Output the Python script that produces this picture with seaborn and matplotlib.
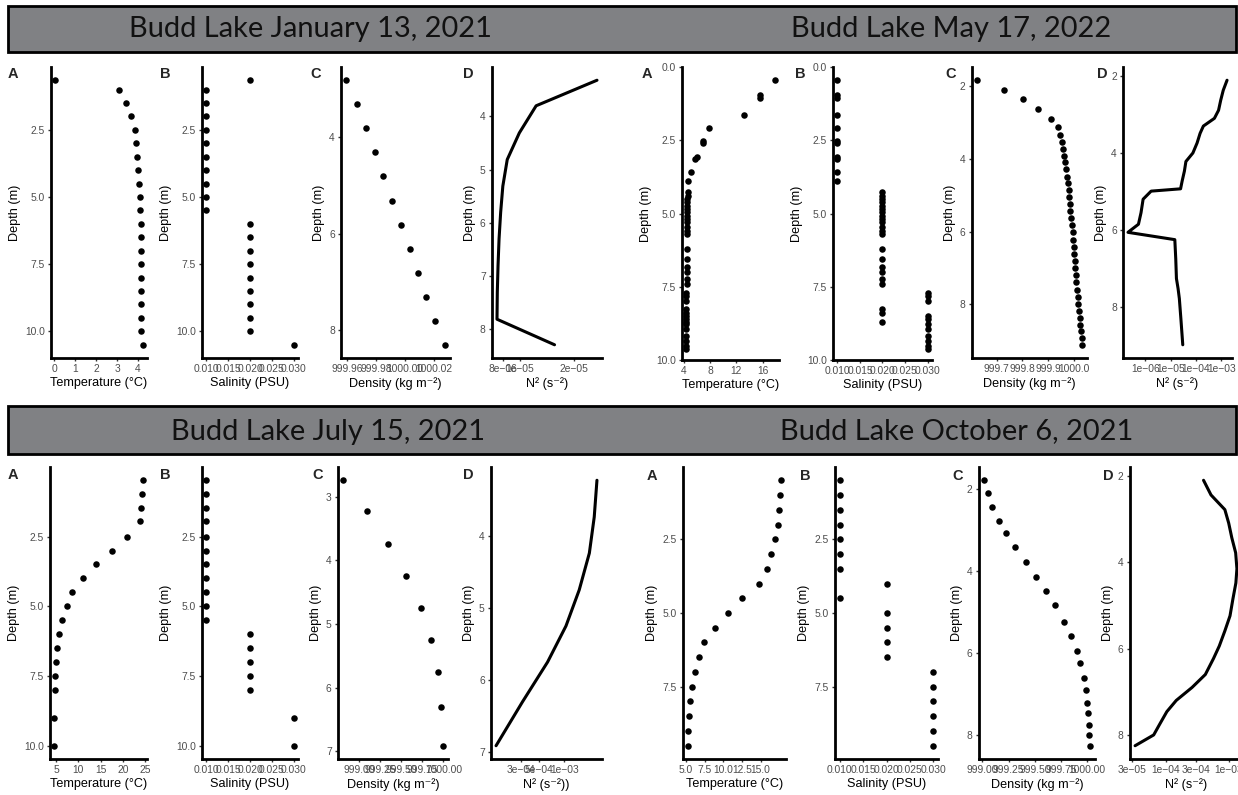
import matplotlib
matplotlib.use("Agg")
import numpy as np
import pandas as pd
import matplotlib.pyplot as plt
import matplotlib.ticker as mticker
from matplotlib.patches import Rectangle
import seaborn as sns

# ---------------- data ----------------
titles = ["Budd Lake January 13, 2021", "Budd Lake May 17, 2022",
          "Budd Lake July 15, 2021", "Budd Lake October 6, 2021"]

# January 13, 2021
jan_depth = [0.65, 1.0, 1.5, 2.0, 2.5, 3.0, 3.5, 4.0, 4.5, 5.0, 5.5, 6.0, 6.5,
             7.0, 7.5, 8.0, 8.5, 9.0, 9.5, 10.0, 10.5]
jan_temp = [0.05, 3.08, 3.43, 3.67, 3.84, 3.92, 3.97, 3.98, 4.05, 4.11, 4.11,
            4.12, 4.16, 4.16, 4.16, 4.16, 4.16, 4.14, 4.16, 4.16, 4.22]
jan_sal = [0.02, 0.01, 0.01, 0.01, 0.01, 0.01, 0.01, 0.01, 0.01, 0.01, 0.01,
           0.02, 0.02, 0.02, 0.02, 0.02, 0.02, 0.02, 0.02, 0.02, 0.03]
jan_dens_depth = [2.83, 3.32, 3.82, 4.32, 4.82, 5.32, 5.82, 6.32, 6.81, 7.31, 7.80, 8.30]
jan_density = [999.959, 999.967, 999.973, 999.979, 999.985, 999.991, 999.9975,
               1000.0034, 1000.009, 1000.015, 1000.021, 1000.028]
jan_n2_depth = [3.32, 3.80, 4.31, 4.81, 5.31, 5.80, 6.30, 6.80, 7.30, 7.81, 8.29]
jan_n2 = [2.70e-5, 1.23e-5, 9.9e-6, 8.47e-6, 8.0e-6, 7.78e-6, 7.62e-6, 7.52e-6,
          7.45e-6, 7.42e-6, 1.56e-5]

# May 17, 2022
may_depth = [0.46, 0.97, 1.05, 1.63, 2.09, 2.53, 2.60, 3.08, 3.15, 3.59, 3.88,
             4.28, 4.39, 4.50, 4.62, 4.73, 4.85, 4.96, 5.07, 5.19, 5.30, 5.47,
             5.59, 5.70, 6.21, 6.56, 6.84, 6.98, 7.24, 7.39, 8.27, 8.38, 8.72,
             7.72, 7.83, 7.98, 8.49, 8.61, 8.78, 8.95, 9.18, 9.35, 9.52, 9.64]
may_temp = [17.85, 15.54, 15.6, 13.23, 7.85, 6.92, 6.82, 5.9, 5.6, 5.03, 4.67,
            4.55, 4.55, 4.5, 4.5, 4.5, 4.5, 4.45, 4.45, 4.45, 4.45, 4.4,
            4.4, 4.4, 4.4, 4.4, 4.4, 4.4, 4.4, 4.4, 4.35, 4.35, 4.35,
            4.35, 4.35, 4.35, 4.35, 4.35, 4.35, 4.35, 4.35, 4.35, 4.35, 4.35]
may_sal = [0.01, 0.01, 0.01, 0.01, 0.01, 0.01, 0.01, 0.01, 0.01, 0.01, 0.01,
           0.02, 0.02, 0.02, 0.02, 0.02, 0.02, 0.02, 0.02, 0.02, 0.02, 0.02,
           0.02, 0.02, 0.02, 0.02, 0.02, 0.02, 0.02, 0.02, 0.02, 0.02, 0.02,
           0.03, 0.03, 0.03, 0.03, 0.03, 0.03, 0.03, 0.03, 0.03, 0.03, 0.03]
may_dens_depth = [1.83, 2.10, 2.36, 2.63, 2.89, 3.13, 3.33, 3.52, 3.71, 3.91, 4.09,
                  4.28, 4.48, 4.66, 4.86, 5.05, 5.24, 5.44, 5.63, 5.82, 6.02, 6.22,
                  6.41, 6.61, 6.80, 7.00, 7.20, 7.39, 7.59, 7.79, 7.98, 8.18, 8.38,
                  8.56, 8.74, 8.92, 9.11]
may_density = [999.624, 999.730, 999.804, 999.862, 999.911, 999.938, 999.947,
               999.953, 999.957, 999.964, 999.968, 999.972, 999.976, 999.978,
               999.981, 999.984, 999.986, 999.988, 999.991, 999.993, 999.996,
               999.997, 1000.000, 1000.001, 1000.004, 1000.005, 1000.008,
               1000.011, 1000.014, 1000.016, 1000.019, 1000.022, 1000.024,
               1000.027, 1000.030, 1000.031, 1000.032]
may_n2_depth = [2.10, 2.36, 2.62, 2.88, 3.09, 3.29, 3.48, 3.73, 3.99, 4.21, 4.46,
                4.72, 4.92, 4.98, 5.19, 5.54, 5.84, 6.05, 6.24, 6.74, 7.25, 7.51,
                7.77, 8.28, 8.97]
may_n2 = [1.68e-3, 1.19e-3, 9.44e-4, 7.76e-4, 5.31e-4, 1.95e-4, 1.445e-4, 1.10e-4,
          7.5e-5, 3.98e-5, 3.47e-5, 2.82e-5, 2.45e-5, 1.68e-6, 8.1e-7, 6.7e-7,
          5.3e-7, 2.04e-7, 1.45e-5, 1.58e-5, 1.68e-5, 1.95e-5, 2.19e-5, 2.51e-5,
          2.99e-5]

# July 15, 2021
jul_depth = [0.48, 0.98, 1.49, 1.95, 2.5, 3.0, 3.5, 4.0, 4.5, 5.0, 5.5, 6.0, 6.5,
             7.0, 7.5, 8.0, 9.0, 10.0]
jul_temp = [24.4, 24.2, 24.1, 23.9, 20.9, 17.5, 14.0, 11.1, 8.7, 7.4, 6.4, 5.7,
            5.3, 5.0, 4.85, 4.8, 4.65, 4.65]
jul_sal = [0.01, 0.01, 0.01, 0.01, 0.01, 0.01, 0.01, 0.01, 0.01, 0.01, 0.01,
           0.02, 0.02, 0.02, 0.02, 0.02, 0.03, 0.03]
jul_dens_depth = [2.74, 3.23, 3.74, 4.24, 4.75, 5.25, 5.75, 6.30, 6.91]
jul_density = [998.813, 999.097, 999.342, 999.564, 999.739, 999.856, 999.933,
               999.972, 999.996]
jul_n2_depth = [3.23, 3.74, 4.24, 4.75, 5.25, 5.75, 6.30, 6.91]
jul_n2 = [2.47e-3, 2.29e-3, 2.0e-3, 1.51e-3, 1.045e-3, 6.27e-4, 3.13e-4, 1.5e-4]

# October 6, 2021
oct_depth = [0.5, 1.0, 1.5, 2.0, 2.5, 3.0, 3.5, 4.0, 4.5, 5.0, 5.5, 6.0, 6.5,
             7.0, 7.5, 8.0, 8.5, 9.0, 9.5]
oct_temp = [17.79, 17.61, 17.48, 17.34, 16.98, 16.44, 15.81, 14.82, 12.52, 10.63,
            8.96, 7.48, 6.71, 6.26, 5.77, 5.54, 5.36, 5.23, 5.23]
oct_sal = [0.01, 0.01, 0.01, 0.01, 0.01, 0.01, 0.01, 0.02, 0.01, 0.02, 0.02,
           0.02, 0.02, 0.03, 0.03, 0.03, 0.03, 0.03, 0.03]
oct_dens_depth = [1.80, 2.10, 2.44, 2.78, 3.09, 3.43, 3.78, 4.15, 4.48, 4.84, 5.24,
                  5.59, 5.94, 6.23, 6.60, 6.90, 7.20, 7.46, 7.75, 8.00, 8.25]
oct_density = [999.017, 999.050, 999.089, 999.159, 999.225, 999.311, 999.411,
               999.513, 999.606, 999.695, 999.778, 999.844, 999.897, 999.930,
               999.964, 999.983, 1000.000, 1000.007, 1000.013, 1000.020, 1000.023]
oct_n2_depth = [2.10, 2.44, 2.78, 3.09, 3.43, 3.78, 4.15, 4.48, 4.84, 5.24, 5.59,
                5.94, 6.23, 6.60, 6.90, 7.20, 7.46, 7.75, 8.00, 8.25]
oct_n2 = [4.0e-4, 5.25e-4, 8.7e-4, 1.0e-3, 1.12e-3, 1.29e-3, 1.35e-3, 1.30e-3,
          1.17e-3, 1.05e-3, 8.7e-4, 7.1e-4, 5.75e-4, 4.27e-4, 2.63e-4, 1.48e-4,
          1.05e-4, 8.1e-5, 6.5e-5, 3.3e-5]

# tick values / labels
sal_ticks = [0.010, 0.015, 0.020, 0.025, 0.030]
sal_labels = ["0.010", "0.015", "0.020", "0.025", "0.030"]

# ---------------- style ----------------
W, H = 1238, 795
sns.set_style("ticks")
plt.rcParams['font.family'] = ['Liberation Sans', 'DejaVu Sans']
plt.rcParams['axes.unicode_minus'] = True

fig = plt.figure(figsize=(W / 100, H / 100), dpi=100)
fig.patch.set_facecolor("white")

TICK_FS = 7.4
LAB_FS = 9.1
TICK_COL = "#4d4d4d"


def make_ax(l, r, t, b):
    return fig.add_axes([l / W, 1 - b / H, (r - l) / W, (b - t) / H])


def expand(vals, log=False, frac=0.05):
    v = np.log10(vals) if log else np.asarray(vals, float)
    lo, hi = v.min(), v.max()
    pad = (hi - lo) * frac
    lo, hi = lo - pad, hi + pad
    if log:
        return 10 ** lo, 10 ** hi
    return lo, hi


def style(ax, xlabel, xticks, xlabels, yticks, ylabels, xlim, ylim, log=False):
    if log:
        ax.set_xscale("log")
    ax.set_xlim(*xlim)
    ax.set_ylim(ylim[1], ylim[0])  # depth increases downward
    ax.xaxis.set_major_locator(mticker.FixedLocator(xticks))
    ax.xaxis.set_minor_locator(mticker.NullLocator())
    ax.set_xticklabels(xlabels)
    ax.set_yticks(yticks)
    ax.set_yticklabels(ylabels)
    ax.set_xlabel(xlabel, fontsize=LAB_FS, labelpad=2, color="black")
    ax.set_ylabel("Depth (m)", fontsize=LAB_FS, labelpad=3, color="black")
    ax.tick_params(axis="both", labelsize=TICK_FS, labelcolor=TICK_COL,
                   length=2.5, width=1.0, color="#333333", pad=2)
    for s in ["top", "right"]:
        ax.spines[s].set_visible(False)
    for s in ["left", "bottom"]:
        ax.spines[s].set_linewidth(2.0)
        ax.spines[s].set_color("black")
    ax.set_facecolor("white")


def scatter(ax, x, y):
    sns.scatterplot(x=x, y=y, ax=ax, color="black", s=22, linewidth=0,
                    legend=False)


def line(ax, x, y):
    sns.lineplot(x=x, y=y, ax=ax, sort=False, estimator=None, color="black",
                 linewidth=2.2, legend=False)


# ---------------- banners ----------------
for (top, bot) in [(6, 52), (406, 454)]:
    fig.add_artist(Rectangle((8 / W, 1 - bot / H), (1236 - 8) / W, (bot - top) / H,
                             transform=fig.transFigure, facecolor="#808184",
                             edgecolor="black", linewidth=2.0, zorder=0))
title_pos = [(310.5, 37), (951.5, 37), (328, 440), (956.5, 439)]
for t, (cx, by) in zip(titles, title_pos):
    fig.text(cx / W, 1 - by / H, t, ha="center", va="baseline", fontsize=20.9,
             family=["Lato", "DejaVu Sans"], color="#111111")

TEMP = "Temperature (°C)"
SAL = "Salinity (PSU)"
DENS = "Density (kg m⁻²)"
N2 = "N² (s⁻²)"

# ---------------- January ----------------
T, B = 67, 358
ax = make_ax(51, 147, T, B)
scatter(ax, jan_temp, jan_depth)
style(ax, TEMP, [0, 1, 2, 3, 4], ["0", "1", "2", "3", "4"],
      [2.5, 5.0, 7.5, 10.0], ["2.5", "5.0", "7.5", "10.0"],
      expand(jan_temp), expand(jan_depth))
ax = make_ax(202, 298, T, B)
scatter(ax, jan_sal, jan_depth)
style(ax, SAL, sal_ticks, sal_labels, [2.5, 5.0, 7.5, 10.0],
      ["2.5", "5.0", "7.5", "10.0"], expand(jan_sal), expand(jan_depth))
ax = make_ax(341, 450, T, B)
scatter(ax, jan_density, jan_dens_depth)
style(ax, DENS, [999.96, 999.98, 1000.00, 1000.02],
      ["999.96", "999.98", "1000.00", "1000.02"], [4, 6, 8], ["4", "6", "8"],
      expand(jan_density), expand(jan_dens_depth))
ax = make_ax(492, 602, T, B)
line(ax, jan_n2, jan_n2_depth)
style(ax, N2, [8e-6, 1e-5, 2e-5], ["8e−06", "1e−05", "2e−05"],
      [4, 5, 6, 7, 8], ["4", "5", "6", "7", "8"],
      expand(jan_n2, log=True), expand(jan_n2_depth), log=True)

# ---------------- May ----------------
ax = make_ax(682, 779, T, 360)
scatter(ax, may_temp, may_depth)
style(ax, TEMP, [4, 8, 12, 16], ["4", "8", "12", "16"],
      [0, 2.5, 5.0, 7.5, 10.0], ["0.0", "2.5", "5.0", "7.5", "10.0"],
      expand(may_temp), (0, 10))
ax = make_ax(833, 932, T, 360)
scatter(ax, may_sal, may_depth)
style(ax, SAL, sal_ticks, sal_labels, [0, 2.5, 5.0, 7.5, 10.0],
      ["0.0", "2.5", "5.0", "7.5", "10.0"], expand(may_sal), (0, 10))
ax = make_ax(972, 1087, T, B)
scatter(ax, may_density, may_dens_depth)
style(ax, DENS, [999.7, 999.8, 999.9, 1000.0],
      ["999.7", "999.8", "999.9", "1000.0"], [2, 4, 6, 8], ["2", "4", "6", "8"],
      expand(may_density), expand(may_dens_depth))
ax = make_ax(1123, 1232, T, B)
line(ax, may_n2, may_n2_depth)
style(ax, N2, [1e-6, 1e-5, 1e-4, 1e-3], ["1e−06", "1e−05", "1e−04", "1e−03"],
      [2, 4, 6, 8], ["2", "4", "6", "8"],
      expand(may_n2, log=True), expand(may_n2_depth), log=True)

# ---------------- July ----------------
T2, B2 = 467, 759
ax = make_ax(50, 147, T2, B2)
scatter(ax, jul_temp, jul_depth)
style(ax, TEMP, [5, 10, 15, 20, 25], ["5", "10", "15", "20", "25"],
      [2.5, 5.0, 7.5, 10.0], ["2.5", "5.0", "7.5", "10.0"],
      expand(jul_temp), expand(jul_depth))
ax = make_ax(202, 298, T2, B2)
scatter(ax, jul_sal, jul_depth)
style(ax, SAL, sal_ticks, sal_labels, [2.5, 5.0, 7.5, 10.0],
      ["2.5", "5.0", "7.5", "10.0"], expand(jul_sal), expand(jul_depth))
ax = make_ax(338, 448, T2, B2)
scatter(ax, jul_density, jul_dens_depth)
style(ax, DENS, [999.00, 999.25, 999.50, 999.75, 1000.00],
      ["999.00", "999.25", "999.50", "999.75", "1000.00"],
      [3, 4, 5, 6, 7], ["3", "4", "5", "6", "7"],
      expand(jul_density), expand(jul_dens_depth))
ax = make_ax(491, 602, T2, B2)
line(ax, jul_n2, jul_n2_depth)
style(ax, "N² (s⁻²))", [3e-4, 5e-4, 1e-3], ["3e−04", "5e−04", "1e−03"],
      [4, 5, 6, 7], ["4", "5", "6", "7"],
      expand(jul_n2, log=True), expand(jul_n2_depth), log=True)

# ---------------- October ----------------
ax = make_ax(683, 786, T2, B2)
scatter(ax, oct_temp, oct_depth)
style(ax, TEMP, [5.0, 7.5, 10.0, 12.5, 15.0],
      ["5.0", "7.5", "10.0", "12.5", "15.0"],
      [2.5, 5.0, 7.5], ["2.5", "5.0", "7.5"],
      expand(oct_temp), expand(oct_depth))
ax = make_ax(835, 938, T2, B2)
scatter(ax, oct_sal, oct_depth)
style(ax, SAL, sal_ticks, sal_labels, [2.5, 5.0, 7.5], ["2.5", "5.0", "7.5"],
      expand(oct_sal), expand(oct_depth))
ax = make_ax(979, 1095, T2, B2)
scatter(ax, oct_density, oct_dens_depth)
style(ax, DENS, [999.00, 999.25, 999.50, 999.75, 1000.00],
      ["999.00", "999.25", "999.50", "999.75", "1000.00"],
      [2, 4, 6, 8], ["2", "4", "6", "8"],
      expand(oct_density), expand(oct_dens_depth))
ax = make_ax(1130, 1242, T2, B2)
line(ax, oct_n2, oct_n2_depth)
style(ax, N2, [3e-5, 1e-4, 3e-4, 1e-3], ["3e−05", "1e−04", "3e−04", "1e−03"],
      [2, 4, 6, 8], ["2", "4", "6", "8"],
      expand(oct_n2, log=True), expand(oct_n2_depth), log=True)

# ---------------- panel letters ----------------
letters = ["A", "B", "C", "D"]
letter_x = [[8, 160, 310, 463], [642, 795, 945, 1097],
            [8, 160, 312, 463], [647, 800, 952, 1103]]
letter_y = [78, 78, 479, 480]
for xs, yb in zip(letter_x, letter_y):
    for L, x in zip(letters, xs):
        fig.text(x / W, 1 - yb / H, L, fontsize=10.5, fontweight="bold",
                 ha="left", va="baseline")

fig.savefig("out.png", dpi=100, facecolor="white")
